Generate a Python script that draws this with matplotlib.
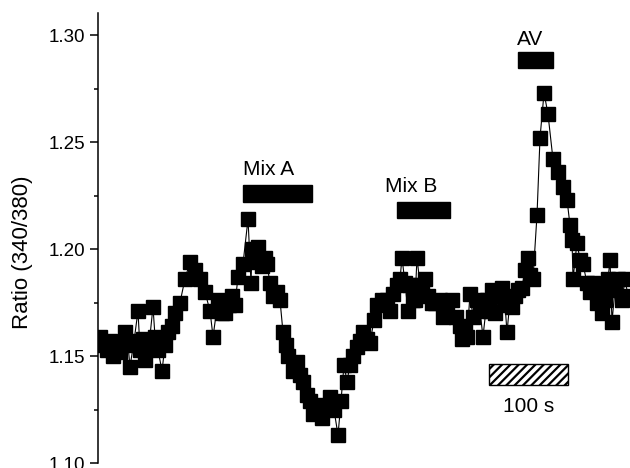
import matplotlib
matplotlib.use("Agg")
import matplotlib.pyplot as plt
from matplotlib.patches import Rectangle
from matplotlib.ticker import MultipleLocator

plt.rcParams['font.family'] = ['Liberation Sans', 'DejaVu Sans']
plt.rcParams['hatch.linewidth'] = 1.6

# time (s) and 340/380 ratio
time_s = [2.5, 6.3, 11.4, 15.2, 19.0, 24.1, 27.8, 34.2, 38.0, 40.5,
          45.6, 50.6, 53.2, 57.0, 59.5, 64.6, 69.6, 72.2, 75.9, 81.0,
          84.8, 88.6, 93.7, 97.5, 103.8, 110.1, 116.5, 122.8, 129.1, 135.4,
          141.8, 145.6, 151.9, 157.0, 160.8, 165.8, 169.6, 173.4, 177.2, 183.5,
          189.9, 193.7, 194.9, 198.7, 202.5, 207.6, 211.4, 213.9, 217.7, 221.5,
          226.6, 230.4, 234.2, 238.0, 240.5, 246.8, 251.9, 255.7, 259.5, 264.6,
          268.4, 272.2, 277.2, 283.5, 288.6, 293.7, 298.7, 303.8, 307.6, 311.4,
          315.2, 319.0, 322.8, 327.8, 331.6, 335.4, 340.5, 344.3, 349.4, 353.2,
          359.5, 365.8, 369.6, 373.4, 378.5, 382.3, 384.8, 388.6, 392.4, 394.9,
          398.7, 401.3, 403.8, 407.6, 410.1, 413.9, 417.7, 422.8, 426.6, 432.9,
          436.7, 441.8, 448.1, 453.2, 458.2, 460.8, 464.6, 467.1, 470.9, 474.7,
          479.7, 483.5, 487.3, 492.4, 496.2, 498.7, 502.5, 506.3, 511.4, 515.2,
          517.7, 521.5, 524.1, 527.8, 531.6, 536.7, 540.5, 544.3, 546.8, 550.6,
          555.7, 559.5, 564.6, 569.6, 575.9, 582.3, 588.6, 593.7, 597.5, 600.0,
          601.3, 606.3, 610.1, 613.9, 619.0, 622.8, 626.6, 631.6, 635.4, 638.0,
          641.8, 645.6, 648.1, 650.6, 654.4, 658.2, 663.3, 667.1, 670.9]
ratio = [1.159, 1.155, 1.153, 1.157, 1.150, 1.155, 1.152, 1.161, 1.155, 1.145,
         1.157, 1.171, 1.153, 1.158, 1.148, 1.155, 1.173, 1.159, 1.153, 1.143,
         1.155, 1.161, 1.164, 1.170, 1.175, 1.186, 1.194, 1.190, 1.186, 1.180,
         1.171, 1.159, 1.176, 1.170, 1.170, 1.174, 1.178, 1.174, 1.187, 1.193,
         1.214, 1.184, 1.200, 1.194, 1.201, 1.192, 1.196, 1.193, 1.184, 1.178,
         1.180, 1.176, 1.161, 1.155, 1.150, 1.143, 1.147, 1.141, 1.138, 1.132,
         1.129, 1.123, 1.127, 1.121, 1.126, 1.131, 1.125, 1.113, 1.129, 1.146,
         1.138, 1.146, 1.150, 1.154, 1.157, 1.161, 1.158, 1.156, 1.167, 1.174,
         1.176, 1.176, 1.171, 1.179, 1.183, 1.186, 1.196, 1.184, 1.171, 1.183,
         1.176, 1.176, 1.196, 1.183, 1.182, 1.186, 1.178, 1.175, 1.175, 1.176,
         1.168, 1.174, 1.176, 1.168, 1.164, 1.158, 1.162, 1.159, 1.179, 1.168,
         1.176, 1.171, 1.159, 1.176, 1.171, 1.181, 1.170, 1.178, 1.182, 1.174,
         1.161, 1.176, 1.173, 1.178, 1.181, 1.182, 1.190, 1.196, 1.188, 1.186,
         1.216, 1.252, 1.273, 1.263, 1.242, 1.236, 1.229, 1.223, 1.211, 1.204,
         1.186, 1.203, 1.195, 1.193, 1.184, 1.180, 1.184, 1.175, 1.181, 1.170,
         1.176, 1.186, 1.195, 1.166, 1.181, 1.186, 1.176, 1.186, 1.178]

# application bars: label, start (s), end (s)
bar_labels = ["Mix A", "Mix B", "AV"]
bar_start = [183.5, 378.5, 531.6]
bar_end = [270.9, 445.6, 575.9]

fig = plt.figure(figsize=(6.3, 4.68), dpi=100)
ax = fig.add_axes([98 / 630, 5 / 468, 532 / 630, 450 / 468])

ax.plot(time_s, ratio, '-', color='black', lw=0.8,
        marker='s', ms=9.5, mfc='black', mec='black')

ax.set_xlim(0, 673.4)
ax.set_ylim(1.10, 1.3103)

# bars for Mix A / Mix B / AV with their labels
bar_y = [1.2220, 1.2145, 1.2846]
bar_h = [0.0079, 0.0075, 0.0075]
text_y = [1.2346, 1.2266, 1.2953]
text_x = [183.5, 363.3, 530.4]
for lab, s, e, y, h, tx, ty in zip(bar_labels, bar_start, bar_end, bar_y, bar_h, text_x, text_y):
    ax.add_patch(Rectangle((s, y), e - s, h, facecolor='black', edgecolor='black', clip_on=False))
    ax.text(tx, ty, lab, fontsize=15, ha='left', va='baseline')

# 100 s scale bar
ax.add_patch(Rectangle((494.9, 1.1364), 100, 0.0099, facecolor='white',
                       edgecolor='black', hatch='////', lw=1.0))
ax.text(544.9, 1.1238, "100 s", fontsize=15, ha='center', va='baseline')

ax.yaxis.set_major_locator(MultipleLocator(0.05))
ax.yaxis.set_minor_locator(MultipleLocator(0.025))
ax.yaxis.set_major_formatter(plt.FormatStrFormatter('%.2f'))
ax.tick_params(axis='y', which='major', length=6, width=1.1, pad=3.5, labelsize=13.5)
ax.tick_params(axis='y', which='minor', length=3, width=1.1)
ax.set_xticks([])
for side in ['top', 'right', 'bottom']:
    ax.spines[side].set_visible(False)
ax.spines['left'].set_linewidth(1.1)

fig.text(23 / 630, 1 - 252 / 468, "Ratio (340/380)", rotation=90,
         ha='center', va='center', fontsize=16)

fig.savefig("out.png", dpi=100)
